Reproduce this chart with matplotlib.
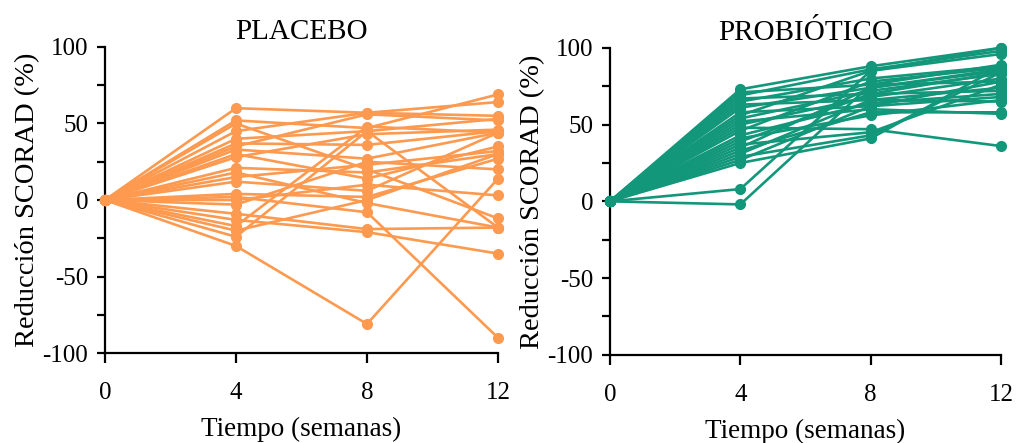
import numpy as np
import matplotlib
matplotlib.use('Agg')
import matplotlib.pyplot as plt
from matplotlib.ticker import MultipleLocator

plt.rcParams['font.family'] = ['Liberation Serif', 'DejaVu Serif']
plt.rcParams['axes.unicode_minus'] = False

weeks = [0, 4, 8, 12]

# placebo: reduction (%) at weeks 4, 8, 12 per patient (week 0 = 0)
placebo_w4 = [60, 52, 50, 45, 40, 37, 35, 33, 30, 28, 21, 18, 15, 12,
              4, 2, 0, -3, -9, -13, -17, -20, -24, -30]
placebo_w8 = [57, 47, 20, 57, 45, 36, 56, 27, 14, 43, 18, -2, 23, 6,
              2, -8, 10, 25, -19, -21, 48, 0, 45, -81]
placebo_w12 = [55, 69, -12, 64, 53, 45, 52, 44, 35, 46, 30, -18, 32, 44,
               27, -90, 3, 20, -18, -35, 44, 30, -18, 14]

# probiotico
probio_w4 = [73, 71, 69, 67, 65, 63, 61, 58, 56, 54, 52, 50, 48, 46,
             43, 41, 39, 37, 35, 33, 31, 29, 27, 25, 8, -2]
probio_w8 = [88, 76, 86, 70, 80, 66, 74, 62, 85, 72, 60, 68, 47, 78,
             64, 56, 70, 45, 74, 58, 66, 43, 62, 41, 85, 76]
probio_w12 = [100, 89, 98, 72, 88, 65, 85, 78, 96, 83, 57, 80, 36, 87,
              70, 66, 84, 76, 86, 58, 74, 84, 68, 88, 100, 78]

panels = [
    ('PLACEBO', placebo_w4, placebo_w8, placebo_w12, '#FD9A50'),
    ('PROBIÓTICO', probio_w4, probio_w8, probio_w12, '#13977A'),
]

fig = plt.figure(figsize=(10.17, 4.43), dpi=100)
boxes = [[0.1032, 0.203, 0.3865, 0.691], [0.5998, 0.199, 0.3845, 0.693]]

for box, (title, w4, w8, w12, col) in zip(boxes, panels):
    ax = fig.add_axes(box)
    for a, b, c in zip(w4, w8, w12):
        ax.plot(weeks, [0, a, b, c], color=col, lw=1.9, marker='o',
                ms=7, clip_on=False, zorder=3)
    ax.set_xlim(0, 12)
    ax.set_ylim(-100, 100)
    ax.set_xticks(weeks)
    ax.yaxis.set_major_locator(MultipleLocator(50))
    ax.yaxis.set_minor_locator(MultipleLocator(25))
    for s in ['top', 'right']:
        ax.spines[s].set_visible(False)
    for s in ['left', 'bottom']:
        ax.spines[s].set_linewidth(1.6)
    ax.tick_params(axis='x', direction='out', length=7, width=1.6,
                   pad=14, labelsize=18)
    ax.tick_params(axis='y', which='both', direction='out', length=6,
                   width=1.6, pad=6, labelsize=18)
    ax.set_title(title, fontsize=21, pad=6)
    ax.set_xlabel('Tiempo (semanas)', fontsize=19.5, labelpad=9)
    ax.set_ylabel('Reducción SCORAD (%)', fontsize=20.5, labelpad=2)

fig.savefig('out.png', dpi=100)
